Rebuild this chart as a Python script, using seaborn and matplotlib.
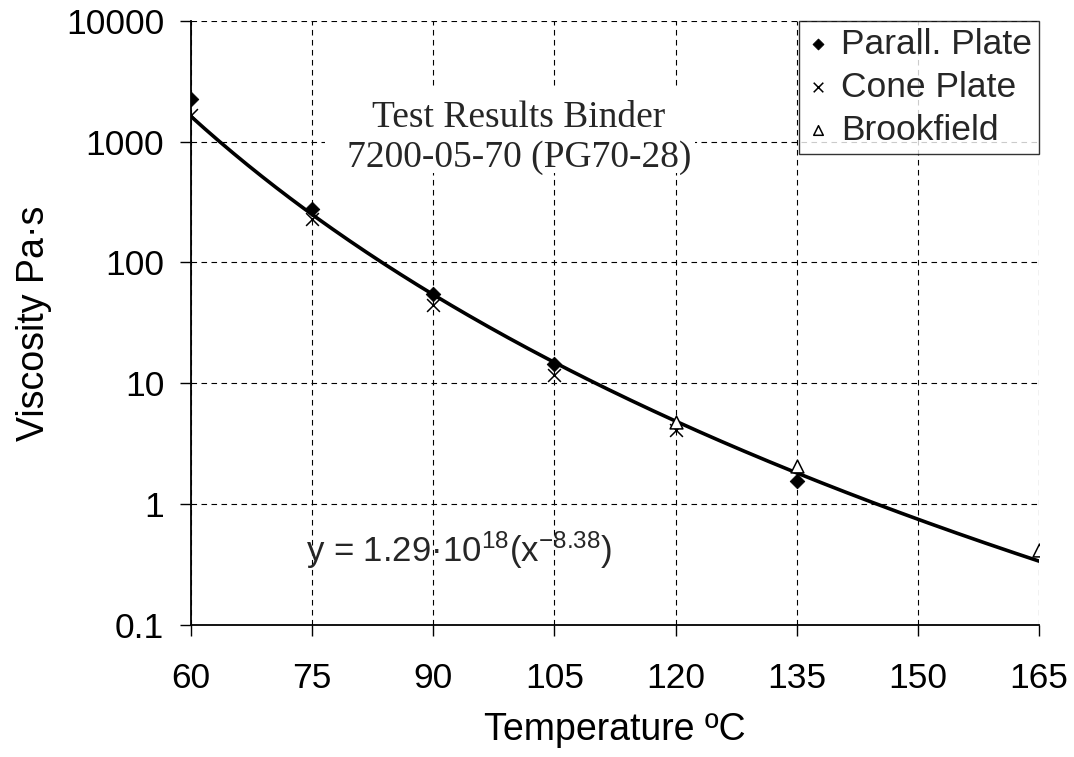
import numpy as np
import pandas as pd
import matplotlib
matplotlib.use('Agg')
import matplotlib.pyplot as plt
import seaborn as sns
from matplotlib.patches import Rectangle
from matplotlib.ticker import FixedLocator, FixedFormatter

# data
pp_temp = [60, 75, 90, 105, 135]
pp_visc = [2250, 275, 55, 14.5, 1.56]
cp_temp = [60, 75, 90, 105, 120]
cp_visc = [1650, 228, 44, 11.6, 4.1]
bf_temp = [120, 135, 165]
bf_visc = [4.8, 2.05, 0.42]

# power law fit shown on the chart
fit_a = 1.29e18
fit_b = -8.38

x_ticks = [60, 75, 90, 105, 120, 135, 150, 165]
y_ticks = [0.1, 1, 10, 100, 1000, 10000]
y_labels = ['0.1', '1', '10', '100', '1000', '10000']

sns.set_theme(style='white')
plt.rcParams['font.family'] = ['Liberation Sans', 'DejaVu Sans']
plt.rcParams['mathtext.fontset'] = 'custom'
plt.rcParams['mathtext.rm'] = 'Liberation Sans'
plt.rcParams['mathtext.it'] = 'Liberation Sans'

fig = plt.figure(figsize=(10.74, 7.57), dpi=100)
ax = fig.add_axes([0.1776, 0.1744, 0.7899, 0.7983])

xf = np.linspace(60, 165, 300)
fit = pd.DataFrame({'t': xf, 'v': fit_a * xf ** fit_b})
sns.lineplot(data=fit, x='t', y='v', color='black', lw=2.6, ax=ax, zorder=3)

pp = pd.DataFrame({'t': pp_temp, 'v': pp_visc})
cp = pd.DataFrame({'t': cp_temp, 'v': cp_visc})
bf = pd.DataFrame({'t': bf_temp, 'v': bf_visc})
sns.scatterplot(data=pp, x='t', y='v', marker='D', s=55, color='black',
                edgecolor='black', ax=ax, zorder=4, label='Parall. Plate')
sns.scatterplot(data=cp, x='t', y='v', marker='x', s=85, color='black',
                linewidth=1.1, ax=ax, zorder=4, label='Cone Plate')
sns.scatterplot(data=bf, x='t', y='v', marker='^', s=85, facecolor='white',
                edgecolor='black', linewidth=1.1, ax=ax, zorder=5, label='Brookfield')

ax.set_yscale('log')
ax.set_xlim(60, 165)
ax.set_ylim(0.1, 10000)
ax.xaxis.set_major_locator(FixedLocator(x_ticks))
ax.yaxis.set_major_locator(FixedLocator(y_ticks))
ax.yaxis.set_major_formatter(FixedFormatter(y_labels))
ax.yaxis.set_minor_locator(FixedLocator([]))
ax.tick_params(axis='both', labelsize=25.5, colors='black', direction='out',
               length=8, width=1, left=True, bottom=True)
ax.tick_params(axis='y', pad=11)
ax.tick_params(axis='x', pad=19)

ax.grid(True, color='black', ls=(0, (5, 4)), lw=0.8)
ax.set_axisbelow(True)
for s in ['top', 'right']:
    ax.spines[s].set_visible(False)
for s in ['left', 'bottom']:
    ax.spines[s].set_color('black')
    ax.spines[s].set_linewidth(1.3)
    ax.spines[s].set_zorder(2.6)

ax.set_xlabel('Temperature ºC', fontsize=27, color='black', labelpad=12)
ax.set_ylabel('Viscosity Pa·s', fontsize=27, color='black', labelpad=10)

# white text box, clipped at its lower edge like the original
box = Rectangle((0.158, 0.748), 0.436, 0.141, transform=ax.transAxes,
                facecolor='white', edgecolor='none', zorder=5)
ax.add_patch(box)
txt = ax.text(0.387, 0.806, 'Test Results Binder\n7200-05-70 (PG70-28)',
              transform=ax.transAxes, ha='center', va='center', fontsize=27,
              family=['Liberation Serif'], linespacing=1.22, zorder=6)
txt.set_clip_path(box)

ax.text(0.136, 0.124, r'y = 1.29·10$^{18}$(x$^{-8.38}$)', transform=ax.transAxes,
        fontsize=25, ha='left', va='center', zorder=6)

leg = ax.legend(loc='upper right', fontsize=25.5, frameon=True, fancybox=False,
                borderaxespad=0, handletextpad=0.3, handlelength=0.7,
                borderpad=0.2, labelspacing=0.28, markerscale=0.75)
leg.get_frame().set_edgecolor('black')
leg.get_frame().set_linewidth(1.0)
leg.set_zorder(10)

fig.savefig('out.png', dpi=100, facecolor='white')
